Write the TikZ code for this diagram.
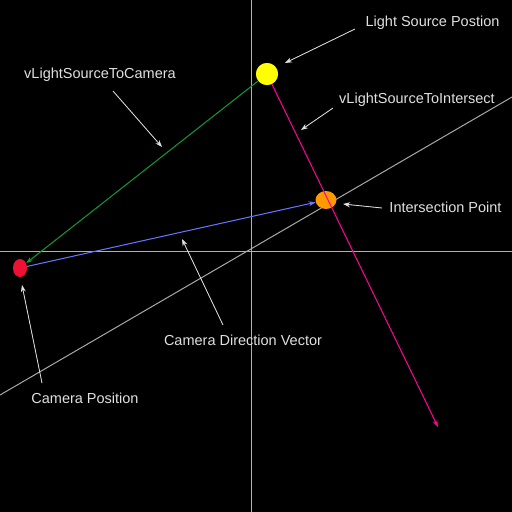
\documentclass[tikz,border=0pt]{standalone}
\usepackage{fontspec}
\setmainfont{Liberation Sans}
\usetikzlibrary{arrows.meta,shapes.geometric}
\definecolor{lbl}{HTML}{E0E0E0}
\definecolor{axisgray}{HTML}{B0B0B0}
\definecolor{diaggray}{HTML}{A8A8A8}
\definecolor{ballyellow}{HTML}{FFFF00}
\definecolor{ballorange}{HTML}{FF9900}
\definecolor{ballred}{HTML}{EE1133}
\definecolor{vmagenta}{HTML}{FF0099}
\definecolor{vgreen}{HTML}{119933}
\definecolor{vblue}{HTML}{6677FF}
\tikzset{
  lbltext/.style={text=lbl, font=\fontsize{14.5}{16}\selectfont, inner sep=0pt},
  pointer/.style={draw=lbl, line width=0.8pt, -{Stealth[length=7pt,width=5pt]}},
  vec/.style={line width=1pt, -{Stealth[length=7pt,width=5pt]}},
  guide/.style={line width=1pt},
}
\begin{document}
\begin{tikzpicture}[x=1pt,y=-1pt]
\fill[black] (0,0) rectangle (512,512);
\useasboundingbox (0,0) rectangle (512,512);
% axes
\coordinate (vtop) at (251,0);
\coordinate (vbot) at (251,512);
\coordinate (hl) at (0,251);
\coordinate (hr) at (512,251);
\coordinate (dl) at (0,395);
\coordinate (dr) at (512,97);
\draw[guide, draw=axisgray] (vtop) -- (vbot);
\draw[guide, draw=axisgray] (hl) -- (hr);
\draw[guide, draw=diaggray] (dl) -- (dr);
% points
\node[ellipse, fill=ballorange, minimum width=21pt, minimum height=18pt, inner sep=0pt] (inter) at (326,200) {};
\node[ellipse, fill=ballred, minimum width=14pt, minimum height=18pt, inner sep=0pt] (cam) at (20,268) {};
\node[circle, fill=ballyellow, minimum size=22pt, inner sep=0pt] (light) at (267,74) {};
\coordinate (magend) at (438,427);
% vectors
\draw[vec, draw=vmagenta, fill=vmagenta] (light.center) -- (magend);
\node[circle, fill=ballyellow, minimum size=22pt, inner sep=0pt] at (light.center) {};
\draw[vec, draw=vgreen, fill=vgreen] (light) -- (cam);
\draw[vec, draw=vblue, fill=vblue] (cam) -- (inter);
% labels
\node[lbltext] (tLight) at (432.5,23) {Light Source Postion};
\node[lbltext] (tCam) at (100,75) {vLightSourceToCamera};
\node[lbltext] (tInt) at (417,100) {vLightSourceToIntersect};
\node[lbltext] (tIP) at (445.5,207) {Intersection Point};
\node[lbltext] (tDir) at (243,340) {Camera Direction Vector};
\node[lbltext] (tPos) at (85,398) {Camera Position};
\coordinate (sLight) at (355,29);   \coordinate (eLight) at (285,63);
\coordinate (sCam) at (113,91);     \coordinate (eCam) at (162,147);
\coordinate (sInt) at (333,108);    \coordinate (eInt) at (301,130);
\coordinate (sIP) at (382,208);     \coordinate (eIP) at (343,204);
\coordinate (sDir) at (223,325);    \coordinate (eDir) at (182,239);
\coordinate (sPos) at (42,383);     \coordinate (ePos) at (22,285);
\draw[pointer, fill=lbl] (sLight) -- (eLight);
\draw[pointer, fill=lbl] (sCam) -- (eCam);
\draw[pointer, fill=lbl] (sInt) -- (eInt);
\draw[pointer, fill=lbl] (sIP) -- (eIP);
\draw[pointer, fill=lbl] (sDir) -- (eDir);
\draw[pointer, fill=lbl] (sPos) -- (ePos);
\end{tikzpicture}
\end{document}
